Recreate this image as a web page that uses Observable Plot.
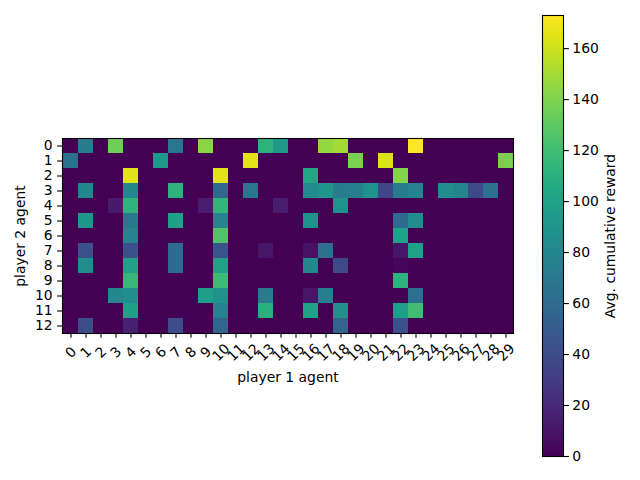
<!DOCTYPE html>
<html>
<head>
<meta charset="utf-8">
<script src="https://cdn.jsdelivr.net/npm/d3@7"></script>
<script src="https://cdn.jsdelivr.net/npm/@observablehq/plot@0.6"></script>
<style>
  body { margin: 0; background: #fff; }
  #wrap { position: relative; width: 640px; height: 480px; }
  #wrap svg { position: absolute; top: 0; }
</style>
</head>
<body>
<div id="wrap"></div>
<script>
const player1Agents = [0,1,2,3,4,5,6,7,8,9,10,11,12,13,14,15,16,17,18,19,20,21,22,23,24,25,26,27,28,29];
const player2Agents = [0,1,2,3,4,5,6,7,8,9,10,11,12];

const row0  = [0,72,0,135,0,0,0,68,0,143,0,0,0,112,93,0,0,145,150,0,0,0,0,173,0,0,0,0,0,0];
const row1  = [63,0,0,0,0,0,93,0,0,0,0,0,165,0,0,0,0,0,0,138,0,163,0,0,0,0,0,0,0,138];
const row2  = [0,0,0,0,165,0,0,0,0,0,165,0,0,0,0,0,103,0,0,0,0,0,141,0,0,0,0,0,0,0];
const row3  = [0,80,0,0,80,0,0,112,0,0,58,0,68,0,0,0,83,90,72,74,88,37,72,78,0,84,79,38,62,0];
const row4  = [0,0,0,12,112,0,0,0,0,14,113,0,0,0,14,0,0,0,88,0,0,0,0,0,0,0,0,0,0,0];
const row5  = [0,92,0,0,70,0,0,98,0,0,78,0,0,0,0,0,88,0,0,0,0,0,60,84,0,0,0,0,0,0];
const row6  = [0,0,0,0,76,0,0,0,0,0,125,0,0,0,0,0,0,0,0,0,0,0,100,0,0,0,0,0,0,0];
const row7  = [0,42,0,0,42,0,0,60,0,0,44,0,0,10,0,0,8,62,0,0,0,0,10,100,0,0,0,0,0,0];
const row8  = [0,85,0,0,100,0,0,60,0,0,100,0,0,0,0,0,80,0,38,0,0,0,3,0,0,0,0,0,0,0];
const row9  = [0,0,0,0,116,0,0,0,0,0,118,0,0,0,0,0,0,0,0,0,0,0,112,0,0,0,0,0,0,0];
const row10 = [0,0,0,80,84,0,0,0,0,96,87,0,0,72,0,0,10,73,0,0,0,0,0,62,0,0,0,0,0,0];
const row11 = [0,0,0,0,98,0,0,0,0,0,76,0,0,110,0,0,100,0,86,0,0,0,96,120,0,0,0,0,0,0];
const row12 = [0,40,0,0,15,0,0,40,0,0,56,0,0,0,0,0,0,0,55,0,0,0,42,0,0,0,0,0,0,0];

const colorbarTicks = [0,20,40,60,80,100,120,140,160];
const colorMax = 173;

const rows = [row0,row1,row2,row3,row4,row5,row6,row7,row8,row9,row10,row11,row12];
const table = [];
rows.forEach((r, j) => r.forEach((v, i) => table.push({p1: player1Agents[i], p2: player2Agents[j], reward: v})));

const font = {fontFamily: "DejaVu Sans", fontSize: "13.9px", background: "white", overflow: "visible"};
const colorScale = {type: "linear", scheme: "viridis", domain: [0, colorMax]};
const tick = 4.86;

const main = Plot.plot({
  width: 640, height: 480,
  marginLeft: 62, marginRight: 127, marginTop: 138, marginBottom: 147,
  style: font,
  x: {type: "band", domain: player1Agents, padding: 0, axis: null},
  y: {type: "band", domain: player2Agents, padding: 0, axis: null},
  color: colorScale,
  marks: [
    Plot.cell(table, {x: "p1", y: "p2", fill: "reward", inset: 0, shapeRendering: "crispEdges"}),
    Plot.frame({stroke: "black", strokeWidth: 1.1}),
    Plot.axisY({tickSize: tick, tickPadding: 5, label: null, stroke: "black", strokeWidth: 1.1, fill: "black"}),
    Plot.axisX({tickSize: tick, tickFormat: () => "", label: null, stroke: "black", strokeWidth: 1.1}),
    Plot.text(player1Agents, {x: d => d, frameAnchor: "bottom", dy: 19, rotate: -45, text: d => String(d), textAnchor: "middle", lineAnchor: "middle", fill: "black"}),
    Plot.text(["player 1 agent"], {frameAnchor: "bottom", dy: 44, textAnchor: "middle", lineAnchor: "middle", fill: "black"}),
    Plot.text(["player 2 agent"], {frameAnchor: "left", dx: -42, rotate: -90, textAnchor: "middle", lineAnchor: "middle", fill: "black"})
  ]
});

// colour ramp for the colorbar: one thin band per pixel row
const nStops = 441;
const stops = d3.range(nStops).map(k => colorMax * k / nStops);
const cb = Plot.plot({
  width: 98, height: 480,
  marginLeft: 0, marginRight: 77, marginTop: 15, marginBottom: 24,
  style: font,
  x: {domain: [0, 1], axis: null},
  y: {domain: [0, colorMax], axis: null},
  color: colorScale,
  marks: [
    Plot.rect(stops, {x1: 0, x2: 1, y1: d => d, y2: d => Math.min(colorMax, d + 2 * colorMax / nStops), fill: d => d, shapeRendering: "crispEdges"}),
    Plot.frame({stroke: "black", strokeWidth: 1.1}),
    Plot.axisY({anchor: "right", ticks: colorbarTicks, tickSize: tick, tickPadding: 4, label: null, stroke: "black", strokeWidth: 1.1, fill: "black"}),
    Plot.text(["Avg. cumulative reward"], {frameAnchor: "right", dx: 47, rotate: -90, textAnchor: "middle", lineAnchor: "middle", fill: "black"})
  ]
});
cb.style.left = "542px";

const wrap = document.getElementById("wrap");
wrap.appendChild(main);
wrap.appendChild(cb);
</script>
</body>
</html>
